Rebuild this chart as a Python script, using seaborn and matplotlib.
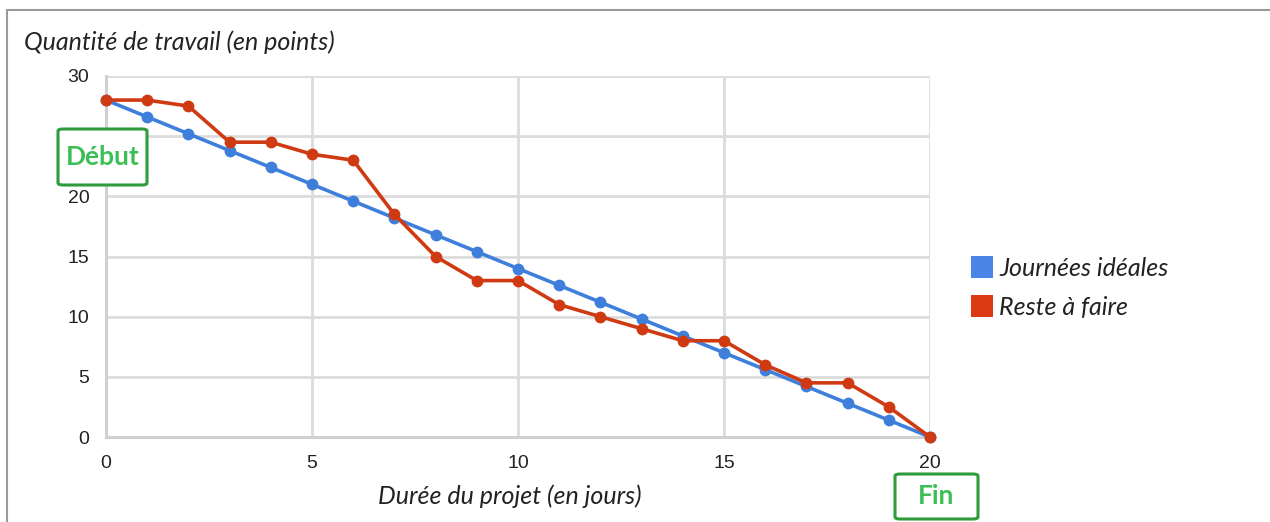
import matplotlib
matplotlib.use("Agg")
import matplotlib.pyplot as plt
from matplotlib.lines import Line2D
from matplotlib.patches import FancyBboxPatch
import seaborn as sns
import pandas as pd

# Burndown data
days = list(range(21))
ideal = [28, 26.6, 25.2, 23.8, 22.4, 21, 19.6, 18.2, 16.8, 15.4, 14,
         12.6, 11.2, 9.8, 8.4, 7, 5.6, 4.2, 2.8, 1.4, 0]
remaining = [28, 28, 27.5, 24.5, 24.5, 23.5, 23, 18.5, 15, 13, 13,
             11, 10, 9, 8, 8, 6, 4.5, 4.5, 2.5, 0]
series_names = ["Journées idéales", "Reste à faire"]
x_ticks = [0, 5, 10, 15, 20]
y_ticks = [0, 5, 10, 15, 20, 25, 30]
y_tick_labels = ["0", "5", "10", "15", "20", "", "30"]

line_colors = {"Journées idéales": "#3f7fdc", "Reste à faire": "#cf3a13"}
legend_colors = ["#4a86e8", "#dc3912"]

df = pd.concat([
    pd.DataFrame({"jour": days, "points": ideal, "serie": series_names[0]}),
    pd.DataFrame({"jour": days, "points": remaining, "serie": series_names[1]}),
])

sns.set_theme(style="white")
plt.rcParams["font.family"] = ["Liberation Sans", "DejaVu Sans"]

W, H = 1270, 522
fig = plt.figure(figsize=(W / 100, H / 100), dpi=100)
ax = fig.add_axes([106 / W, 1 - 437 / H, (930 - 106) / W, (437 - 76) / H])

sns.lineplot(data=df, x="jour", y="points", hue="serie", palette=line_colors,
             marker="o", markersize=8.5, markeredgewidth=0, linewidth=2.6,
             ax=ax, legend=False, clip_on=False, zorder=3)

ax.set_xlim(0, 20)
ax.set_ylim(0, 30)
ax.set_xticks(x_ticks)
ax.set_yticks(y_ticks)
ax.set_yticklabels(y_tick_labels)
ax.tick_params(axis="both", labelsize=14, colors="#222222", length=0)
ax.tick_params(axis="y", pad=12)
ax.tick_params(axis="x", pad=13)
ax.grid(True, color="#dcdcdc", linewidth=2)
ax.set_axisbelow(True)
for s in ["top", "right"]:
    ax.spines[s].set_visible(False)
for s in ["left", "bottom"]:
    ax.spines[s].set_color("#d0d0d0")
    ax.spines[s].set_linewidth(2.2)
ax.set_xlabel("")
ax.set_ylabel("")

italic_font = ["Lato", "DejaVu Sans"]
fig.text(24 / W, 1 - 42 / H, "Quantité de travail (en points)", fontsize=18,
         style="italic", family=italic_font, color="#222222", va="center", ha="left")
fig.text(510 / W, 1 - 496 / H, "Durée du projet (en jours)", fontsize=18,
         style="italic", family=italic_font, color="#222222", va="center", ha="center")

handles = [Line2D([], [], marker="s", linestyle="none", markersize=16,
                  markerfacecolor=c, markeredgewidth=0) for c in legend_colors]
leg = fig.legend(handles, series_names, loc="center left",
                 bbox_to_anchor=(948 / W, 1 - 288 / H), frameon=False,
                 prop={"family": italic_font, "style": "italic", "size": 18},
                 handletextpad=0.25, labelspacing=0.65, handlelength=0.9)
for t in leg.get_texts():
    t.set_color("#222222")

# Start / end callouts
def callout(x0, y0, x1, y1, text):
    box = FancyBboxPatch((x0 / W, 1 - y1 / H), (x1 - x0) / W, (y1 - y0) / H,
                         boxstyle="round,pad=0,rounding_size=0.004",
                         transform=fig.transFigure, facecolor="white",
                         edgecolor="#2e9c3a", linewidth=2.2, zorder=10)
    fig.add_artist(box)
    fig.text((x0 + x1) / 2 / W, 1 - (y0 + y1) / 2 / H, text, fontsize=19,
             fontweight="bold", family=["Lato", "DejaVu Sans"], color="#3bbf55",
             ha="center", va="center", zorder=11)

callout(58, 129, 147, 185, "Début")
callout(895, 474, 978, 519, "Fin")

# Outer frame (top and left edges)
frame_color = "#9a9a9a"
fig.add_artist(Line2D([7 / W, 1.0], [1 - 10 / H, 1 - 10 / H],
                      transform=fig.transFigure, color=frame_color, linewidth=1.5))
fig.add_artist(Line2D([7 / W, 7 / W], [1 - 10 / H, 0],
                      transform=fig.transFigure, color=frame_color, linewidth=1.5))

fig.savefig("out.png", dpi=100)
